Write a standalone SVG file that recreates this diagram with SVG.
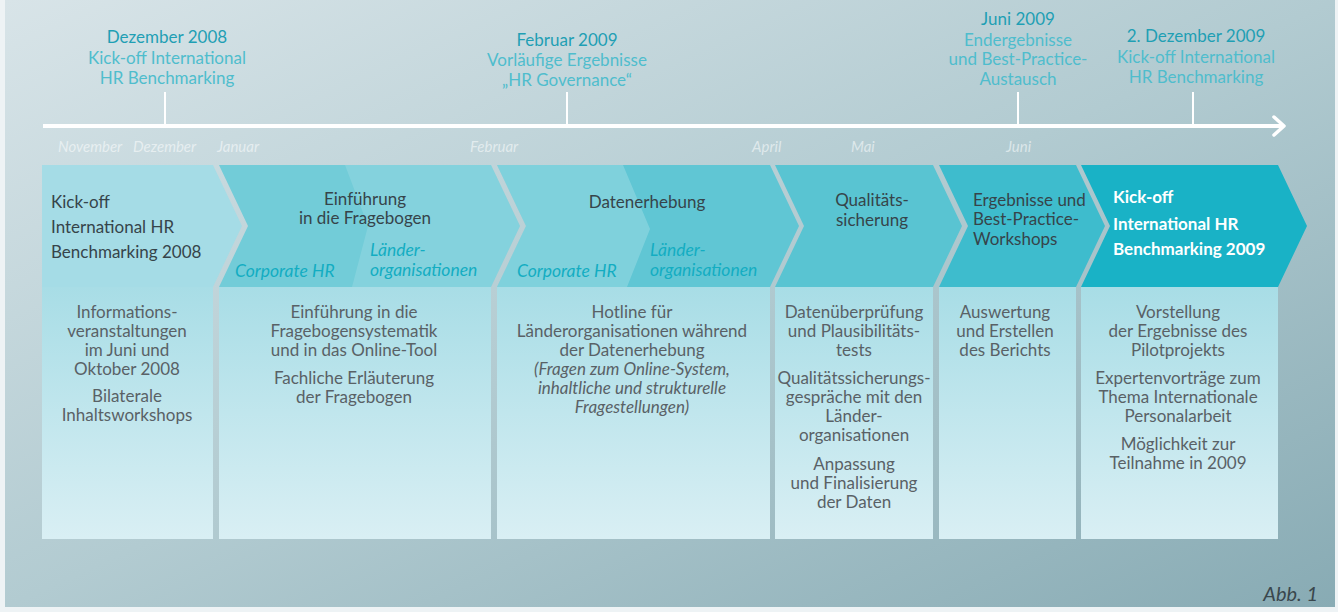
<svg xmlns="http://www.w3.org/2000/svg" width="1338" height="612" viewBox="0 0 1338 612">
  <defs>
    <linearGradient id="bg" x1="0" y1="0" x2="1" y2="1">
      <stop offset="0" stop-color="#d8e4e8"/>
      <stop offset="0.5" stop-color="#b2cbd1"/>
      <stop offset="1" stop-color="#88abb4"/>
    </linearGradient>
    <linearGradient id="panel" x1="0" y1="0" x2="0" y2="1">
      <stop offset="0" stop-color="#a8dde6"/>
      <stop offset="1" stop-color="#d9eff4"/>
    </linearGradient>
    <marker id="arrow" viewBox="0 0 14 22" refX="12" refY="11" markerWidth="14" markerHeight="22" markerUnits="userSpaceOnUse" orient="auto">
      <path d="M2,2 L12,11 L2,20" fill="none" stroke="#ffffff" stroke-width="3.5" stroke-linecap="round" stroke-linejoin="round"/>
    </marker>
    <style>
      .lbl { font-family: Lato, "Open Sans", sans-serif; font-size: 17px; text-anchor: middle; }
      .date { fill: #1f9fb4; }
      .sub { fill: #4fbdcd; }
      .month { font-family: Lato, sans-serif; font-size: 15px; font-style: italic; fill: #ffffff; fill-opacity: 0.55; }
      .head { font-family: Lato, "Open Sans", sans-serif; font-size: 17px; fill: #36444a; }
      .head.c { text-anchor: middle; }
      .head.w { fill: #ffffff; font-weight: 700; }
      .org { font-family: Lato, "Open Sans", sans-serif; font-size: 17.5px; font-style: italic; fill: #13adc2; }
      .body { font-family: Lato, "Open Sans", sans-serif; font-size: 17px; fill: #596166; text-anchor: middle; }
      .body.i { font-style: italic; }
      .panel { fill: url(#panel); }
      .tick { stroke: #ffffff; stroke-width: 2; }
    </style>
  </defs>

  <!-- backdrop with thin light frame -->
  <rect width="1338" height="612" fill="#eef3f5"/>
  <rect x="5" y="0" width="1330" height="607" fill="url(#bg)"/>

  <!-- timeline arrow and milestone ticks -->
  <g id="connectors">
    <line x1="43" y1="126" x2="1284" y2="126" stroke="#ffffff" stroke-width="4" marker-end="url(#arrow)"/>
    <line class="tick" x1="165" y1="92" x2="165" y2="126"/>
    <line class="tick" x1="567" y1="92" x2="567" y2="126"/>
    <line class="tick" x1="1018" y1="92" x2="1018" y2="126"/>
    <line class="tick" x1="1193" y1="92" x2="1193" y2="126"/>
  </g>

  <!-- milestones above the axis -->
  <g id="milestone-dez-2008">
    <text class="lbl date" x="167" y="43">Dezember 2008</text>
    <text class="lbl sub" x="167" y="64">Kick-off International</text>
    <text class="lbl sub" x="167" y="84">HR Benchmarking</text>
  </g>
  <g id="milestone-feb-2009">
    <text class="lbl date" x="567" y="46">Februar 2009</text>
    <text class="lbl sub" x="567" y="66">Vorläufige Ergebnisse</text>
    <text class="lbl sub" x="567" y="86">„HR Governance“</text>
  </g>
  <g id="milestone-jun-2009">
    <text class="lbl date" x="1018" y="25">Juni 2009</text>
    <text class="lbl sub" x="1018" y="46">Endergebnisse</text>
    <text class="lbl sub" x="1018" y="65">und Best-Practice-</text>
    <text class="lbl sub" x="1018" y="85">Austausch</text>
  </g>
  <g id="milestone-dez-2009">
    <text class="lbl date" x="1196" y="42">2. Dezember 2009</text>
    <text class="lbl sub" x="1196" y="63">Kick-off International</text>
    <text class="lbl sub" x="1196" y="83">HR Benchmarking</text>
  </g>

  <!-- month scale below the axis -->
  <g id="months">
    <text class="month" x="58" y="152">November</text>
    <text class="month" x="133" y="152">Dezember</text>
    <text class="month" x="217" y="152">Januar</text>
    <text class="month" x="470" y="152">Februar</text>
    <text class="month" x="752" y="152">April</text>
    <text class="month" x="851" y="152">Mai</text>
    <text class="month" x="1006" y="152">Juni</text>
  </g>

  <!-- phase 1 -->
  <g id="phase-kickoff-2008">
    <path d="M42,165 H213 L242,226 L213,287 H42 Z" fill="#a5dce6"/>
    <rect class="panel" x="42" y="287" width="171" height="252"/>
    <text class="head" x="51" y="208">Kick-off</text>
    <text class="head" x="51" y="233">International HR</text>
    <text class="head" x="51" y="258">Benchmarking 2008</text>
    <text class="body" x="127" y="318">Informations-</text>
    <text class="body" x="127" y="337">veranstaltungen</text>
    <text class="body" x="127" y="356">im Juni und</text>
    <text class="body" x="127" y="375">Oktober 2008</text>
    <text class="body" x="127" y="402">Bilaterale</text>
    <text class="body" x="127" y="421">Inhaltsworkshops</text>
  </g>

  <!-- phase 2 -->
  <g id="phase-einfuehrung">
    <path d="M219,165 H491 L520,226 L491,287 H219 L248,226 Z" fill="#72ccd8"/>
    <path d="M345,165 H491 L520,226 L491,287 H352 L368,226 Z" fill="#ffffff" fill-opacity="0.13"/>
    <rect class="panel" x="219" y="287" width="272" height="252"/>
    <text class="head c" x="365" y="205">Einführung</text>
    <text class="head c" x="365" y="224">in die Fragebogen</text>
    <text class="org" x="235" y="277">Corporate HR</text>
    <text class="org" x="370" y="256">Länder-</text>
    <text class="org" x="370" y="276">organisationen</text>
    <text class="body" x="354" y="318">Einführung in die</text>
    <text class="body" x="354" y="337">Fragebogensystematik</text>
    <text class="body" x="354" y="356">und in das Online-Tool</text>
    <text class="body" x="354" y="384">Fachliche Erläuterung</text>
    <text class="body" x="354" y="403">der Fragebogen</text>
  </g>

  <!-- phase 3 -->
  <g id="phase-datenerhebung">
    <path d="M497,165 H770 L799,226 L770,287 H497 L526,226 Z" fill="#60c6d4"/>
    <path d="M497,165 H623 L650,229 L627,287 H497 L526,226 Z" fill="#ffffff" fill-opacity="0.2"/>
    <rect class="panel" x="497" y="287" width="273" height="252"/>
    <text class="head c" x="647" y="208">Datenerhebung</text>
    <text class="org" x="517" y="277">Corporate HR</text>
    <text class="org" x="650" y="256">Länder-</text>
    <text class="org" x="650" y="276">organisationen</text>
    <text class="body" x="632" y="318">Hotline für</text>
    <text class="body" x="632" y="337">Länderorganisationen während</text>
    <text class="body" x="632" y="356">der Datenerhebung</text>
    <text class="body i" x="632" y="375">(Fragen zum Online-System,</text>
    <text class="body i" x="632" y="394">inhaltliche und strukturelle</text>
    <text class="body i" x="632" y="413">Fragestellungen)</text>
  </g>

  <!-- phase 4 -->
  <g id="phase-qualitaetssicherung">
    <path d="M775,165 H933 L962,226 L933,287 H775 L804,226 Z" fill="#59c4d2"/>
    <rect class="panel" x="775" y="287" width="158" height="252"/>
    <text class="head c" x="872" y="206">Qualitäts-</text>
    <text class="head c" x="872" y="226">sicherung</text>
    <text class="body" x="854" y="318">Datenüberprüfung</text>
    <text class="body" x="854" y="337">und Plausibilitäts-</text>
    <text class="body" x="854" y="356">tests</text>
    <text class="body" x="854" y="384">Qualitätssicherungs-</text>
    <text class="body" x="854" y="403">gespräche mit den</text>
    <text class="body" x="854" y="422">Länder-</text>
    <text class="body" x="854" y="441">organisationen</text>
    <text class="body" x="854" y="470">Anpassung</text>
    <text class="body" x="854" y="489">und Finalisierung</text>
    <text class="body" x="854" y="508">der Daten</text>
  </g>

  <!-- phase 5 -->
  <g id="phase-ergebnisse">
    <path d="M939,165 H1076 L1105,226 L1076,287 H939 L968,226 Z" fill="#3ebccd"/>
    <rect class="panel" x="939" y="287" width="137" height="252"/>
    <text class="head" x="973" y="206">Ergebnisse und</text>
    <text class="head" x="973" y="225">Best-Practice-</text>
    <text class="head" x="973" y="245">Workshops</text>
    <text class="body" x="1005" y="318">Auswertung</text>
    <text class="body" x="1005" y="337">und Erstellen</text>
    <text class="body" x="1005" y="356">des Berichts</text>
  </g>

  <!-- phase 6 -->
  <g id="phase-kickoff-2009">
    <path d="M1081,165 H1278 L1307,226 L1278,287 H1081 L1110,226 Z" fill="#19b2c6"/>
    <rect class="panel" x="1081" y="287" width="197" height="252"/>
    <text class="head w" x="1113" y="203">Kick-off</text>
    <text class="head w" x="1113" y="230">International HR</text>
    <text class="head w" x="1113" y="255">Benchmarking 2009</text>
    <text class="body" x="1178" y="318">Vorstellung</text>
    <text class="body" x="1178" y="337">der Ergebnisse des</text>
    <text class="body" x="1178" y="356">Pilotprojekts</text>
    <text class="body" x="1178" y="384">Expertenvorträge zum</text>
    <text class="body" x="1178" y="403">Thema Internationale</text>
    <text class="body" x="1178" y="422">Personalarbeit</text>
    <text class="body" x="1178" y="450">Möglichkeit zur</text>
    <text class="body" x="1178" y="469">Teilnahme in 2009</text>
  </g>

  <!-- figure number -->
  <text x="1318" y="601" font-family="Lato, sans-serif" font-size="20" font-style="italic" fill="#3a474d" text-anchor="end">Abb. 1</text>
</svg>
